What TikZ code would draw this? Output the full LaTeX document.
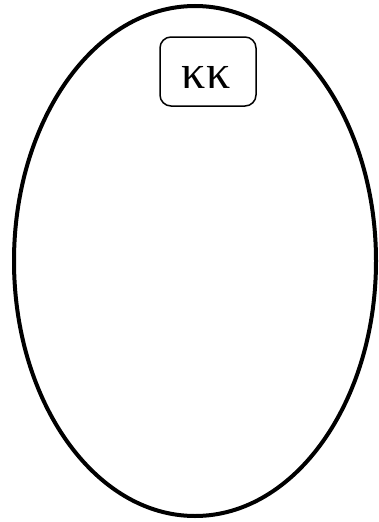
\documentclass[tikz,border=0pt]{standalone}
\usepackage{fontspec}
\setmainfont{Liberation Serif}
\begin{document}
\begin{tikzpicture}[x=1pt,y=-1pt,
  outer/.style={draw,line width=4pt},
  kbox/.style={draw,line width=1.5pt,rounded corners=11pt,minimum width=96pt,minimum height=69pt,inner sep=0pt},
  klabel/.style={inner sep=0pt,font=\fontsize{48}{52}\selectfont}]
\useasboundingbox (0,0) rectangle (379,522);
\draw[outer] (195,261) ellipse [x radius=181, y radius=255];
\node[kbox] (k) at (208,71.5) {};
\node[klabel] (t) at (206,77) {κκ};
\end{tikzpicture}
\end{document}
